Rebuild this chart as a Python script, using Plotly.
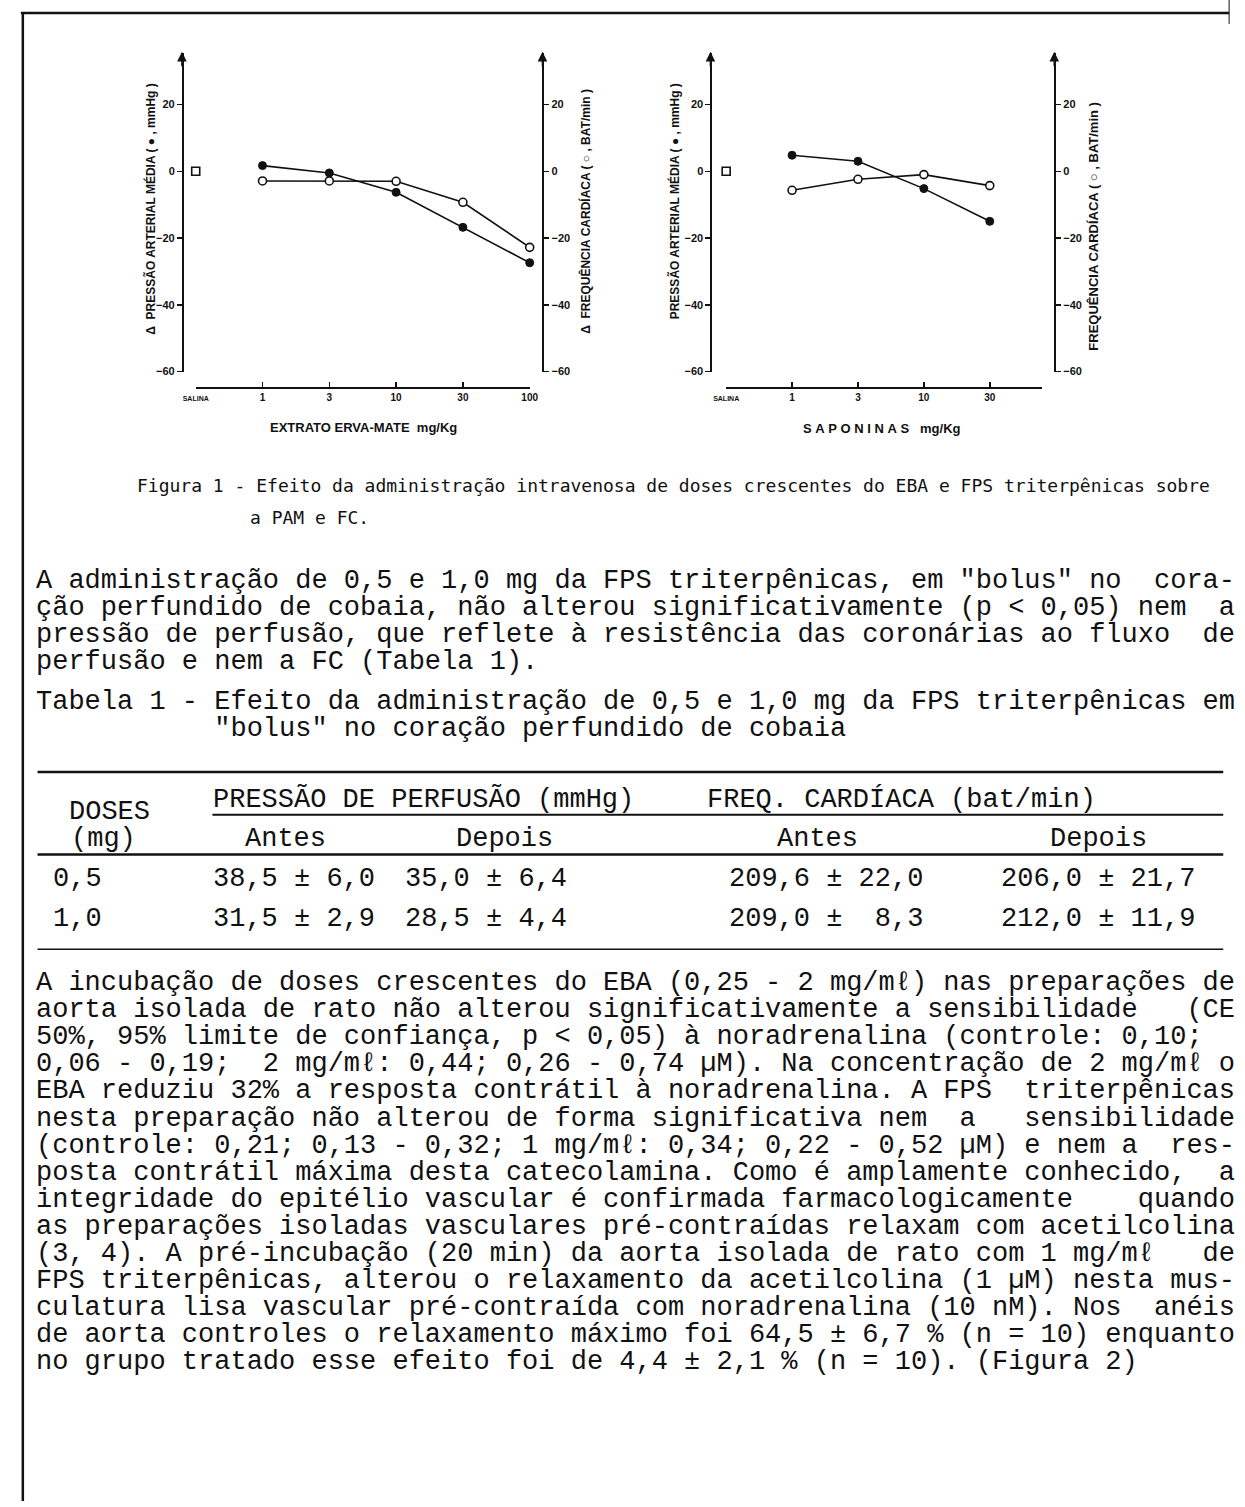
import plotly.graph_objects as go

# ---------------- data ----------------
eba_cats = ["SALINA", "1", "3", "10", "30", "100"]
eba_doses = ["1", "3", "10", "30", "100"]
eba_pam = [1.7, -0.5, -6.3, -16.8, -27.4]      # filled circles, mmHg
eba_fc = [-2.9, -2.9, -3.0, -9.3, -22.8]       # open circles, bat/min

sap_cats = ["SALINA", "1", "3", "10", "30"]
sap_doses = ["1", "3", "10", "30"]
sap_pam = [4.8, 3.0, -5.2, -15.0]
sap_fc = [-5.7, -2.4, -1.0, -4.3]

salina_cat = ["SALINA"]
salina_val = [0]

y_ticks = [-60, -40, -20, 0, 20]

tab_doses = ["0,5", "1,0"]
pp_antes = ["38,5 ± 6,0", "31,5 ± 2,9"]
pp_depois = ["35,0 ± 6,4", "28,5 ± 4,4"]
fc_antes = ["209,6 ± 22,0", "209,0 ±  8,3"]
fc_depois = ["206,0 ± 21,7", "212,0 ± 11,9"]

caption = [
    "Figura 1 - Efeito da administração intravenosa de doses crescentes do EBA e FPS triterpênicas sobre",
    "a PAM e FC.",
]
para1 = [
    'A administração de 0,5 e 1,0 mg da FPS triterpênicas, em "bolus" no  cora-',
    "ção perfundido de cobaia, não alterou significativamente (p &lt; 0,05) nem  a",
    "pressão de perfusão, que reflete à resistência das coronárias ao fluxo  de",
    "perfusão e nem a FC (Tabela 1).",
]
tabela_title = [
    "Tabela 1 - Efeito da administração de 0,5 e 1,0 mg da FPS triterpênicas em",
    '           "bolus" no coração perfundido de cobaia',
]
para2 = [
    "A incubação de doses crescentes do EBA (0,25 - 2 mg/mℓ) nas preparações de",
    "aorta isolada de rato não alterou significativamente a sensibilidade   (CE",
    "50%, 95% limite de confiança, p &lt; 0,05) à noradrenalina (controle: 0,10;",
    "0,06 - 0,19;  2 mg/mℓ: 0,44; 0,26 - 0,74 µM). Na concentração de 2 mg/mℓ o",
    "EBA reduziu 32% a resposta contrátil à noradrenalina. A FPS  triterpênicas",
    "nesta preparação não alterou de forma significativa nem  a   sensibilidade",
    "(controle: 0,21; 0,13 - 0,32; 1 mg/mℓ: 0,34; 0,22 - 0,52 µM) e nem a  res-",
    "posta contrátil máxima desta catecolamina. Como é amplamente conhecido,  a",
    "integridade do epitélio vascular é confirmada farmacologicamente    quando",
    "as preparações isoladas vasculares pré-contraídas relaxam com acetilcolina",
    "(3, 4). A pré-incubação (20 min) da aorta isolada de rato com 1 mg/mℓ   de",
    "FPS triterpênicas, alterou o relaxamento da acetilcolina (1 µM) nesta mus-",
    "culatura lisa vascular pré-contraída com noradrenalina (10 nM). Nos  anéis",
    "de aorta controles o relaxamento máximo foi 64,5 ± 6,7 % (n = 10) enquanto",
    "no grupo tratado esse efeito foi de 4,4 ± 2,1 % (n = 10). (Figura 2)",
]

# ---------------- page geometry (page pixels -> paper) ----------------
W, H = 1245, 1507


def X(p):
    return p / W


def Y(p):
    return 1 - p / H


BLACK = "#111111"
SANS = "Liberation Sans Narrow, Liberation Sans, Arial, sans-serif"
MONO = "Liberation Mono, Courier New, monospace"
CAPF = "DejaVu Sans Mono, monospace"


def nb(s):
    return s.replace(" ", "\u00a0")


fig = go.Figure()

filled = dict(symbol="circle", size=8, color=BLACK, line=dict(color=BLACK, width=1))
opened = dict(symbol="circle", size=8, color="white", line=dict(color=BLACK, width=1.6))
square = dict(symbol="square", size=8, color="white", line=dict(color=BLACK, width=1.6))
ln = dict(color=BLACK, width=1.6)

# left chart
fig.add_trace(go.Scatter(x=salina_cat, y=salina_val, mode="markers", marker=square,
                         xaxis="x", yaxis="y", cliponaxis=False))
fig.add_trace(go.Scatter(x=eba_doses, y=eba_pam, mode="lines+markers", marker=filled, line=ln,
                         xaxis="x", yaxis="y", cliponaxis=False))
fig.add_trace(go.Scatter(x=eba_doses, y=eba_fc, mode="lines+markers", marker=opened, line=ln,
                         xaxis="x", yaxis="y2", cliponaxis=False))
# right chart
fig.add_trace(go.Scatter(x=salina_cat, y=salina_val, mode="markers", marker=square,
                         xaxis="x2", yaxis="y3", cliponaxis=False))
fig.add_trace(go.Scatter(x=sap_doses, y=sap_pam, mode="lines+markers", marker=filled, line=ln,
                         xaxis="x2", yaxis="y3", cliponaxis=False))
fig.add_trace(go.Scatter(x=sap_doses, y=sap_fc, mode="lines+markers", marker=opened, line=ln,
                         xaxis="x2", yaxis="y4", cliponaxis=False))

tickfont = dict(family=SANS, size=11, color=BLACK, weight="bold")
ydom = [Y(373), Y(53)]
yrange = [-60, 35.5]


def yax(pos, side, overlay=None):
    d = dict(domain=ydom, range=yrange, anchor="free", position=pos, side=side,
             tickvals=y_ticks, ticks="outside", ticklen=5, tickwidth=1.5, tickcolor=BLACK,
             showline=True, linecolor=BLACK, linewidth=1.8, showgrid=False, zeroline=False,
             tickfont=tickfont, fixedrange=True)
    if overlay:
        d["overlaying"] = overlay
    return d


def xax(dom, cats, rng):
    text = ['<span style="font-size:7px">SALINA</span>'] + cats[1:]
    return dict(domain=dom, type="category", categoryorder="array", categoryarray=cats,
                range=rng, anchor="free", position=Y(389), tickvals=cats, ticktext=text,
                ticks="inside", ticklen=5, tickwidth=1.5, tickcolor=BLACK,
                showline=True, linecolor=BLACK, linewidth=1.8, showgrid=False, zeroline=False,
                tickfont=dict(family=SANS, size=10, color=BLACK, weight="bold"), fixedrange=True)


fig.update_layout(
    width=W, height=H, autosize=False,
    margin=dict(l=0, r=0, t=0, b=0),
    paper_bgcolor="white", plot_bgcolor="rgba(0,0,0,0)",
    showlegend=False,
    xaxis=xax([X(186), X(526)], eba_cats, [0, 5]),
    xaxis2=xax([X(726), X(1048)], sap_cats, [0, 4.8]),
    yaxis=yax(X(172), "left"),
    yaxis2=yax(X(539), "right", "y"),
    yaxis3=yax(X(710), "left"),
    yaxis4=yax(X(1060), "right", "y3"),
)

ann = []
# axis arrows
for ax_x in (172, 539, 710, 1060):
    ann.append(dict(x=X(ax_x), y=Y(52), xref="paper", yref="paper", text="", showarrow=True,
                    ax=0, ay=16, arrowhead=2, arrowsize=1.2, arrowwidth=1.6, arrowcolor=BLACK))


# axis titles
def vtitle(txt, px, py, size=12):
    ann.append(dict(x=X(px), y=Y(py), xref="paper", yref="paper", text=txt, showarrow=False,
                    textangle=-90, xanchor="center", yanchor="middle",
                    font=dict(family=SANS, size=size, color=BLACK, weight="bold")))


vtitle("Δ  PRESSÃO ARTERIAL MÉDIA ( ● , mmHg )", 140, 210)
vtitle("Δ  FREQUÊNCIA CARDÍACA ( ○ , BAT/min )", 582, 212)
vtitle("PRESSÃO ARTERIAL MÉDIA ( ● , mmHg )", 673, 202)
vtitle("FREQUÊNCIA CARDÍACA ( ○ , BAT/min )", 1100, 227, 13)

for txt, px, py in (("EXTRATO ERVA-MATE  mg/Kg", 357, 429), ("S A P O N I N A S   mg/Kg", 885, 430)):
    ann.append(dict(x=X(px), y=Y(py), xref="paper", yref="paper", text=nb(txt), showarrow=False,
                    xanchor="center", yanchor="middle",
                    font=dict(family=SANS, size=13, color=BLACK, weight="bold")))


def line_text(txt, px, py, family=MONO, size=27):
    ann.append(dict(x=X(px), y=Y(py), xref="paper", yref="paper", text=nb(txt), showarrow=False,
                    xanchor="left", yanchor="middle", borderpad=0,
                    font=dict(family=family, size=size, color=BLACK)))


# caption
line_text(caption[0], 125, 487, CAPF, 18)
line_text(caption[1], 240, 520, CAPF, 18)

# paragraph 1
for i, s in enumerate(para1):
    line_text(s, 22, 583 + i * 27.3)
for i, s in enumerate(tabela_title):
    line_text(s, 22, 705 + i * 27)

# table
line_text("DOSES", 56, 815)
line_text("(mg)", 58, 842)
line_text("PRESSÃO DE PERFUSÃO (mmHg)", 203, 803)
line_text("FREQ. CARDÍACA (bat/min)", 705, 803)
for txt, px in (("Antes", 235), ("Depois", 450), ("Antes", 777), ("Depois", 1055)):
    line_text(txt, px, 842)
row_y = [883, 923]
for i in range(len(tab_doses)):
    line_text(tab_doses[i], 40, row_y[i])
    line_text(pp_antes[i], 203, row_y[i])
    line_text(pp_depois[i], 398, row_y[i])
    line_text(fc_antes[i], 728, row_y[i])
    line_text(fc_depois[i], 1005, row_y[i])

# paragraph 2
for i, s in enumerate(para2):
    line_text(s, 22, 987 + i * 27.2)

fig.update_layout(annotations=ann)

# page frame and table rules
shapes = []


def hline(x0, x1, y, w, dash="solid"):
    shapes.append(dict(type="line", xref="paper", yref="paper", x0=X(x0), x1=X(x1), y0=Y(y), y1=Y(y),
                       line=dict(color=BLACK, width=w, dash=dash)))


def vline(x, y0, y1, w):
    shapes.append(dict(type="line", xref="paper", yref="paper", x0=X(x), x1=X(x), y0=Y(y0), y1=Y(y1),
                       line=dict(color=BLACK, width=w)))


hline(8, 1238, 13, 2.5)
vline(10, 12, 1507, 2.5)
vline(1238, 0, 24, 1)
hline(25, 1232, 775, 2.5)
hline(203, 1232, 818, 2)
hline(25, 1232, 858, 2.5)
hline(25, 1232, 953, 1.5)
fig.update_layout(shapes=shapes)

fig.write_html(
    "out.html",
    config={"displayModeBar": False, "staticPlot": True},
    post_script="document.body.style.margin='0';document.body.style.overflow='hidden';",
)
